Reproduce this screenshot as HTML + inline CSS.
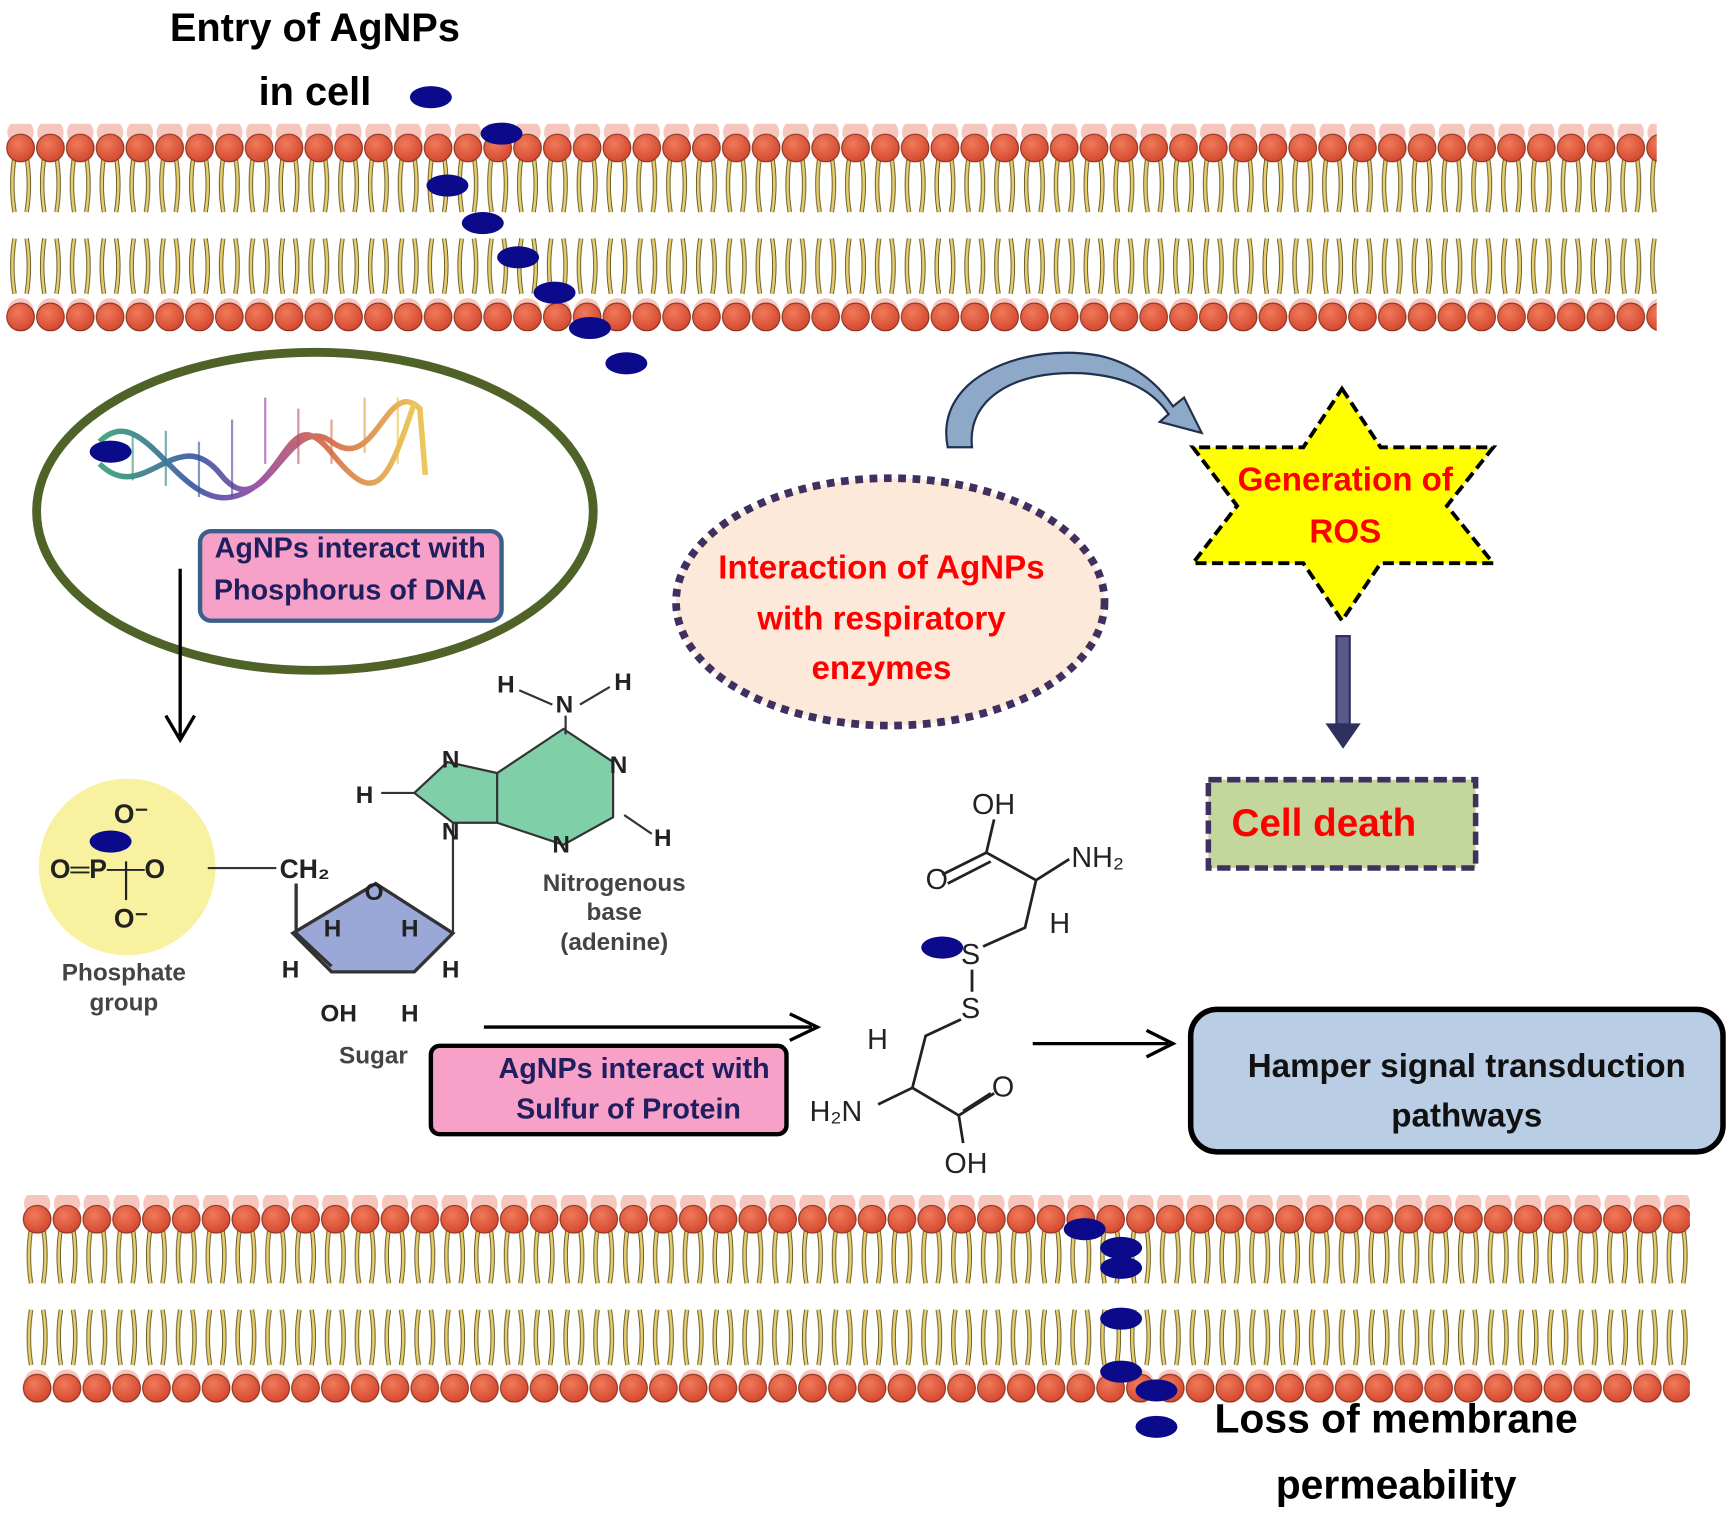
<!DOCTYPE html>
<html><head><meta charset="utf-8"><style>html,body{margin:0;padding:0;background:#fff}svg{display:block}</style></head>
<body>
<svg width="1732" height="1513" viewBox="0 0 1568 1370" xmlns="http://www.w3.org/2000/svg" font-family="Liberation Sans, sans-serif">
<defs>
<radialGradient id="hg" cx="0.4" cy="0.35" r="0.7"><stop offset="0" stop-color="#f07a5a"/><stop offset="1" stop-color="#d2452c"/></radialGradient>
<g id="tile">
<circle cx="13.5" cy="8" r="12" fill="#f0a090" opacity="0.6"/>
<circle cx="13.5" cy="170" r="12" fill="#f0a090" opacity="0.6"/>
<g stroke="#5a5020" stroke-width="4" fill="none"><path d="M8 30 q-4 25 0 50 M19 30 q4 25 0 50 M8 104 q-4 25 0 50 M19 104 q4 25 0 50"/></g>
<g stroke="#e6cc6a" stroke-width="2.4" fill="none"><path d="M8 30 q-4 25 0 50 M19 30 q4 25 0 50 M8 104 q-4 25 0 50 M19 104 q4 25 0 50"/></g>
<circle cx="13.5" cy="22" r="12.5" fill="url(#hg)" stroke="#8a3020" stroke-width="1"/>
<circle cx="13.5" cy="175" r="12.5" fill="url(#hg)" stroke="#8a3020" stroke-width="1"/>
</g>
<pattern id="mp1" patternUnits="userSpaceOnUse" x="5" y="112" width="27" height="190"><use href="#tile"/></pattern>
<pattern id="mp2" patternUnits="userSpaceOnUse" x="20" y="1082" width="27" height="190"><use href="#tile"/></pattern>
<linearGradient id="dna" x1="0" x2="1"><stop offset="0" stop-color="#2a9a6a"/><stop offset="0.3" stop-color="#2a4aa0"/><stop offset="0.5" stop-color="#8a3a9a"/><stop offset="0.7" stop-color="#d05a3a"/><stop offset="1" stop-color="#e8c040"/></linearGradient>
</defs>

<!-- membranes -->
<rect x="5" y="112" width="1495" height="190" fill="url(#mp1)"/>
<rect x="20" y="1082" width="1510" height="190" fill="url(#mp2)"/>

<!-- title -->
<text x="285" y="37" font-size="36" font-weight="bold" text-anchor="middle">Entry of AgNPs</text>
<text x="285" y="95" font-size="36" font-weight="bold" text-anchor="middle">in  cell</text>

<!-- DNA ellipse -->
<ellipse cx="285" cy="463" rx="252" ry="144" fill="none" stroke="#4f6228" stroke-width="8"/>
<g fill="none" stroke="url(#dna)" stroke-width="5" opacity="0.85">
<path d="M90 420 C130 460,160 380,200 430 S260 370,300 400 S350 340,380 370 L385 430"/>
<path d="M90 400 C130 360,160 460,210 450 S260 360,300 410 S350 440,375 365"/>
</g>
<g stroke="url(#dna)" stroke-width="2" opacity="0.6">
<path d="M120 395v40M150 390v50M180 400v50M210 380v70M240 360v60M270 370v50M300 380v40M330 360v50M360 360v60"/>
</g>
<rect x="181" y="481" width="273" height="81" rx="10" fill="#f7a0c8" stroke="#3a5f8a" stroke-width="4"/>
<text x="317" y="505" font-size="26" font-weight="bold" fill="#1f1f5f" text-anchor="middle">AgNPs interact with</text>
<text x="317" y="543" font-size="26" font-weight="bold" fill="#1f1f5f" text-anchor="middle">Phosphorus of DNA</text>
<line x1="163" y1="515" x2="163" y2="668" stroke="#000" stroke-width="3"/>
<path d="M150 648 L163 670 L176 648" fill="none" stroke="#000" stroke-width="3"/>

<!-- nucleotide -->
<circle cx="115" cy="785" r="80" fill="#f8f2a0"/>
<g font-size="24" font-weight="bold" fill="#222">
<text x="103" y="745">O⁻</text>
<text x="45" y="795">O═P──O</text>
<text x="103" y="840">O⁻</text>
<line x1="114" y1="780" x2="114" y2="815" stroke="#222" stroke-width="2"/>
<text x="253" y="795">CH₂</text>
</g>
<line x1="188" y1="786" x2="250" y2="786" stroke="#333" stroke-width="2"/>
<path d="M268 800 L268 845 M268 845 L300 875 M340 800 L265 845 L300 880 L375 880 L410 845 Z" fill="#9aa8d8" stroke="#333" stroke-width="3"/>
<g font-size="22" font-weight="bold" fill="#222">
<text x="330" y="815">O</text><text x="293" y="848">H</text><text x="363" y="848">H</text>
<text x="255" y="885">H</text><text x="400" y="885">H</text><text x="290" y="925">OH</text><text x="363" y="925">H</text>
</g>
<g font-size="22" font-weight="bold" fill="#444" text-anchor="middle">
<text x="112" y="888">Phosphate</text><text x="112" y="915">group</text>
<text x="338" y="963">Sugar</text>
<text x="556" y="807">Nitrogenous</text><text x="556" y="833">base</text><text x="556" y="860">(adenine)</text>
</g>
<line x1="410" y1="845" x2="410" y2="745" stroke="#333" stroke-width="2"/>
<path d="M410 745 L375 718 L405 690 L450 700 L450 745 Z M450 700 L510 660 L555 690 L555 740 L510 765 L450 745" fill="#7fd0a8" stroke="#333" stroke-width="2"/>
<g font-size="22" font-weight="bold" fill="#222">
<text x="400" y="695">N</text><text x="400" y="760">N</text><text x="503" y="645">N</text><text x="552" y="700">N</text><text x="500" y="772">N</text>
<text x="322" y="727">H</text><text x="450" y="627">H</text><text x="556" y="625">H</text><text x="592" y="766">H</text>
</g>
<path d="M470 625 L500 638 M525 638 L552 622 M565 738 L590 755" stroke="#333" stroke-width="2" fill="none"/>
<line x1="512" y1="648" x2="512" y2="665" stroke="#333" stroke-width="2"/>
<line x1="345" y1="718" x2="375" y2="718" stroke="#333" stroke-width="2"/>

<!-- arrow to cystine -->
<line x1="438" y1="930" x2="735" y2="930" stroke="#000" stroke-width="3"/>
<path d="M715 918 L740 930 L715 942" fill="none" stroke="#000" stroke-width="3"/>
<rect x="390" y="947" width="322" height="80" rx="8" fill="#f7a0c8" stroke="#000" stroke-width="4"/>
<text x="574" y="976" font-size="26" font-weight="bold" fill="#1f1f5f" text-anchor="middle">AgNPs interact with</text>
<text x="569" y="1013" font-size="26" font-weight="bold" fill="#1f1f5f" text-anchor="middle">Sulfur of Protein</text>

<!-- cystine -->
<g font-size="26" fill="#222">
<text x="880" y="737">OH</text><text x="970" y="785">NH₂</text><text x="838" y="805">O</text><text x="950" y="845">H</text>
<text x="870" y="873">S</text><text x="870" y="922">S</text><text x="785" y="950">H</text>
<text x="733" y="1015">H₂N</text><text x="898" y="993">O</text><text x="855" y="1062">OH</text>
</g>
<g stroke="#222" stroke-width="2.5" fill="none">
<path d="M900 742 L893 772 L938 797 L968 778 M893 772 L853 792 M897 780 L858 800 M938 797 L928 840 L890 857 M880 878 L880 898 M870 923 L838 938 L826 985 L868 1010 L900 990 M872 1006 L897 990 M868 1010 L872 1035 M826 985 L795 1000"/>
</g>
<line x1="935" y1="945" x2="1058" y2="945" stroke="#000" stroke-width="3"/>
<path d="M1038 933 L1062 945 L1038 957" fill="none" stroke="#000" stroke-width="3"/>

<rect x="1078" y="914" width="482" height="129" rx="24" fill="#b9cde5" stroke="#000" stroke-width="5"/>
<text x="1328" y="975" font-size="30" font-weight="bold" fill="#111" text-anchor="middle">Hamper signal transduction</text>
<text x="1328" y="1020" font-size="30" font-weight="bold" fill="#111" text-anchor="middle">pathways</text>

<!-- respiratory ellipse -->
<ellipse cx="806" cy="545" rx="194" ry="112" fill="#fde9d9" stroke="#403060" stroke-width="7" stroke-dasharray="7 6"/>
<g font-size="30" font-weight="bold" fill="#ff0000" text-anchor="middle">
<text x="798" y="524">Interaction of  AgNPs</text>
<text x="798" y="570">with respiratory</text>
<text x="798" y="615">enzymes</text>
</g>

<!-- curved arrow -->
<path d="M858 405 C845 340,930 310,995 322 C1030 330,1050 350,1062 368 L1072 360 L1088 392 L1050 382 L1058 375 C1040 348,1010 340,980 338 C920 335,875 360,880 405 Z" fill="#8ea9c8" stroke="#203050" stroke-width="2"/>

<!-- star -->
<polygon points="1215,352 1250,405 1352,405 1310,458 1352,510 1250,510 1215,562 1180,510 1080,510 1120,458 1080,405 1180,405" fill="#ffff00" stroke="#000" stroke-width="3.5" stroke-dasharray="10 5"/>
<text x="1218" y="444" font-size="30" font-weight="bold" fill="#ff0000" text-anchor="middle">Generation of</text>
<text x="1218" y="491" font-size="30" font-weight="bold" fill="#ff0000" text-anchor="middle">ROS</text>

<!-- down arrow -->
<rect x="1210" y="576" width="12" height="80" fill="#5a5a8a" stroke="#303060" stroke-width="2"/>
<path d="M1200 655 L1232 655 L1216 678 Z" fill="#303060"/>

<rect x="1094" y="706" width="242" height="80" fill="#c3d69b" stroke="#403060" stroke-width="5" stroke-dasharray="12 5"/>
<text x="1115" y="757" font-size="35" font-weight="bold" fill="#ff0000">Cell death</text>

<text x="1264" y="1297" font-size="37" font-weight="bold" text-anchor="middle">Loss of membrane</text>
<text x="1264" y="1357" font-size="37" font-weight="bold" text-anchor="middle">permeability</text>

<!-- nanoparticles -->
<g fill="#0a0a8a">
<ellipse cx="390" cy="88" rx="19" ry="10"/><ellipse cx="454" cy="121" rx="19" ry="10"/>
<ellipse cx="405" cy="168" rx="19" ry="10"/><ellipse cx="437" cy="202" rx="19" ry="10"/>
<ellipse cx="469" cy="233" rx="19" ry="10"/><ellipse cx="502" cy="265" rx="19" ry="10"/>
<ellipse cx="534" cy="297" rx="19" ry="10"/><ellipse cx="567" cy="329" rx="19" ry="10"/>
<ellipse cx="100" cy="409" rx="19" ry="10"/><ellipse cx="100" cy="762" rx="19" ry="10"/>
<ellipse cx="853" cy="858" rx="19" ry="10"/>
<ellipse cx="982" cy="1113" rx="19" ry="10"/><ellipse cx="1015" cy="1130" rx="19" ry="10"/>
<ellipse cx="1015" cy="1148" rx="19" ry="10"/><ellipse cx="1015" cy="1194" rx="19" ry="10"/>
<ellipse cx="1015" cy="1242" rx="19" ry="10"/><ellipse cx="1047" cy="1259" rx="19" ry="10"/>
<ellipse cx="1047" cy="1292" rx="19" ry="10"/>
</g>
</svg>
</body></html>
